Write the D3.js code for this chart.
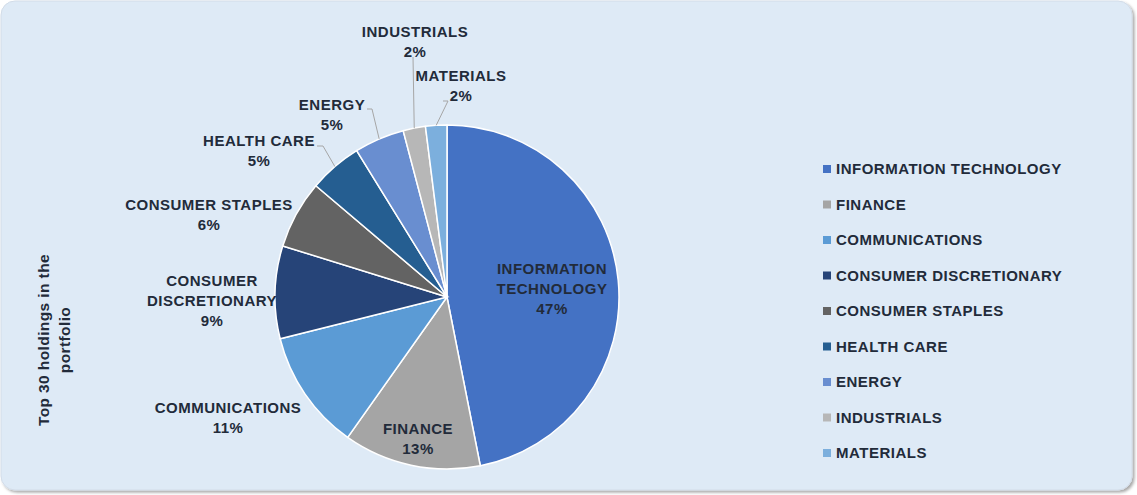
<!DOCTYPE html>
<html><head><meta charset="utf-8">
<script src="https://cdn.jsdelivr.net/npm/d3@7"></script>
<style>
html,body{margin:0;padding:0;background:#fff;}
svg{display:block;font-family:"Liberation Sans",Arial,sans-serif;font-weight:bold;}
</style></head>
<body>
<svg id="chart" width="1137" height="495"></svg>
<script>
const categories = ["INFORMATION TECHNOLOGY","FINANCE","COMMUNICATIONS","CONSUMER DISCRETIONARY","CONSUMER STAPLES","HEALTH CARE","ENERGY","INDUSTRIALS","MATERIALS"];
const values = [46.9, 12.9, 11.3, 8.7, 6.4, 5.0, 4.7, 2.1, 2.0];
const labelLines = [["INFORMATION","TECHNOLOGY"],["FINANCE"],["COMMUNICATIONS"],["CONSUMER","DISCRETIONARY"],["CONSUMER STAPLES"],["HEALTH CARE"],["ENERGY"],["INDUSTRIALS"],["MATERIALS"]];
const colors = ["#4472C4","#A5A5A5","#5B9BD5","#264478","#636363","#255E91","#698ED0","#B7B7B7","#7CAFDD"];
const axisTitle = ["Top 30 holdings in the","portfolio"];

// layout (label block centres relative to pie centre; leader elbows)
const labelOffsets = [[105,-8],[-29,142],[-219,121],[-235,4],[-238,-82],[-188,-146],[-115,-182],[-32,-255],[14,-211]];
const leaderElbows = [null,null,null,null,null,[[-130,-151],[-124,-151]],[[-80,-188],[-75,-188]],[[-34,-240],[-34,-240]],[[-4,-196],[1,-196]]];

const W = 1137, H = 495;
const svg = d3.select("#chart");
const defs = svg.append("defs");
const f = defs.append("filter").attr("id","sh").attr("x","-5%").attr("y","-5%").attr("width","110%").attr("height","110%");
f.append("feDropShadow").attr("dx",2).attr("dy",2).attr("stdDeviation",1.5).attr("flood-color","#000").attr("flood-opacity",0.35);

svg.append("rect").attr("x",1).attr("y",1).attr("width",1131).attr("height",489)
  .attr("rx",14).attr("fill","#DEEAF6").attr("stroke","#D2DCE8").attr("stroke-width",1).attr("filter","url(#sh)");

const cx = 447, cy = 297, R = 172;
const g = svg.append("g").attr("transform",`translate(${cx},${cy})`);
const pie = d3.pie().sort(null).value(d=>d)(values);
const arc = d3.arc().innerRadius(0).outerRadius(R);
g.selectAll("path.slice").data(pie).join("path").attr("class","slice")
  .attr("d",arc).attr("fill",(d,i)=>colors[i]).attr("stroke","#fff").attr("stroke-width",1.5);

const edge = d3.arc().innerRadius(R).outerRadius(R);
const textColor = "#222B3A";
const fs = 15;
const lh = 20;
const ls = 0.5;
pie.forEach((d,i)=>{
  const lines = labelLines[i].concat([Math.round(values[i])+"%"]);
  const [ox,oy] = labelOffsets[i];
  const t = g.append("text").attr("text-anchor","middle").attr("fill",textColor).attr("font-size",fs).attr("letter-spacing",ls);
  const y0 = oy - (lines.length-1)*lh/2;
  lines.forEach((s,k)=>{
    t.append("tspan").attr("x",ox).attr("y",y0+k*lh).attr("dy","0.36em").text(s);
  });
  if (leaderElbows[i]) {
    const p = edge.centroid(d);
    const pts = leaderElbows[i].concat([p]);
    g.append("path").attr("d",d3.line()(pts)).attr("fill","none").attr("stroke","#A6A6A6").attr("stroke-width",1);
  }
});

// legend
const legendY = d3.scalePoint().domain(categories).range([169,453]);
const lg = svg.append("g");
categories.forEach((c,i)=>{
  const y = legendY(c);
  lg.append("rect").attr("x",823).attr("y",y-4).attr("width",8).attr("height",8).attr("fill",colors[i]);
  lg.append("text").attr("x",836).attr("y",y).attr("dy","0.36em").attr("font-size",fs).attr("letter-spacing",ls).attr("fill",textColor).text(c);
});

// axis title
const at = svg.append("text").attr("transform","translate(43,340) rotate(-90)").attr("text-anchor","middle")
  .attr("font-size",15.5).attr("letter-spacing",0.4).attr("fill",textColor);
axisTitle.forEach((s,k)=>{
  at.append("tspan").attr("x",0).attr("y",k*21).attr("dy","0.36em").text(s);
});
</script>
</body></html>
